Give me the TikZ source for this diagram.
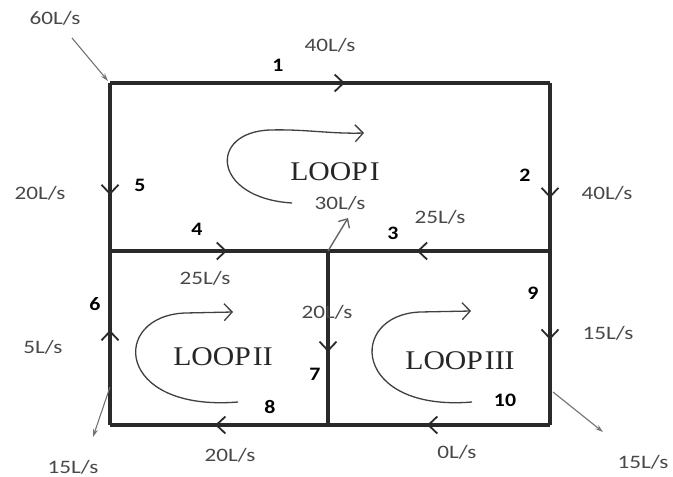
\documentclass[tikz,border=0pt]{standalone}
\usepackage{fontspec}
\newfontfamily\labfont[FakeStretch=1.22]{Carlito}
\newfontfamily\numfont[FakeStretch=1.15]{Carlito}
\newfontfamily\loopfont[FakeStretch=1.1]{Liberation Serif}
\usetikzlibrary{arrows.meta,decorations.markings}
\definecolor{pipecol}{HTML}{2A2A2A}
\definecolor{labcol}{HTML}{484848}
\tikzset{
 pipe/.style={draw=pipecol,line width=3.4pt},
 flowat/.style={postaction={decorate},decoration={markings,mark=at position #1 with {\arrow{Straight Barb[length=9pt,width=17pt,line width=1.8pt]}}}},
 flowlab/.style={text=labcol,font=\labfont\fontsize{19}{19}\selectfont,inner sep=0pt},
 pipenum/.style={text=black,font=\numfont\bfseries\fontsize{19}{19}\selectfont,inner sep=0pt},
 looplab/.style={font=\loopfont\fontsize{27}{27}\selectfont,inner sep=0pt,text=black!85},
 loopcurve/.style={draw=black!75,line width=1.3pt,-{Straight Barb[length=8pt,width=17pt,line width=1.3pt]}},
 ext/.style={draw=black!55,line width=1.1pt,-{Stealth[length=8pt,width=5pt]}},
}
\begin{document}
\begin{tikzpicture}[x=1pt,y=-1pt]
\useasboundingbox (0,0) rectangle (673,477);
% junctions
\coordinate (A) at (110,83);
\coordinate (B) at (550,83);
\coordinate (C) at (550,251);
\coordinate (D) at (110,251);
\coordinate (M) at (328,251);
\coordinate (E) at (110,425);
\coordinate (N) at (328,425);
\coordinate (F) at (550,425);
% pipes
\draw[pipe,flowat=0.534] (A) -- (B);
\draw[pipe,flowat=0.685] (B) -- (C);
\draw[pipe,flowat=0.667] (A) -- (D);
\draw[pipe,flowat=0.6] (C) -- (M);
\draw[pipe,flowat=0.537] (D) -- (M);
\draw[pipe,flowat=0.546] (E) -- (D);
\draw[pipe,flowat=0.58] (M) -- (N);
\draw[pipe,flowat=0.51] (C) -- (F);
\draw[pipe,flowat=0.518] (N) -- (E);
\draw[pipe,flowat=0.554] (F) -- (N);
% external flows
\coordinate (in60) at (72,38);
\coordinate (Ain) at (108,81);
\draw[ext] (in60) -- (Ain);
\coordinate (o1) at (110,387);
\coordinate (e1) at (93,437);
\draw[ext] (o1) -- (e1);
\coordinate (o2) at (553,392);
\coordinate (e2) at (603,432);
\draw[ext] (o2) -- (e2);
\coordinate (t30) at (348,218);
\draw[draw=black!60,line width=1.4pt,-{Straight Barb[length=7pt,width=13pt,line width=1.4pt]}] (M) -- (t30);
% loop curves
\coordinate (l1s) at (292,203);
\coordinate (l1t) at (270,130);
\coordinate (l1e) at (364,133);
\draw[loopcurve] (l1s) .. controls (212,198) and (208,132) .. (l1t) .. controls (305,129) and (330,134) .. (l1e);
\coordinate (l2s) at (238,402);
\coordinate (l2t) at (185,313);
\coordinate (l2e) at (233,312);
\draw[loopcurve] (l2s) .. controls (115,412) and (110,316) .. (l2t) -- (l2e);
\coordinate (l3s) at (472,402);
\coordinate (l3t) at (420,312);
\coordinate (l3e) at (471,311);
\draw[loopcurve] (l3s) .. controls (352,412) and (347,315) .. (l3t) -- (l3e);
% loop labels
\node[looplab] (L1) at (335,172) {LOOP\hspace{2pt}I};
\node[looplab] (L2) at (223,357) {LOOP\hspace{2pt}II};
\node[looplab] (L3) at (460,361) {LOOP\hspace{2pt}III};
% pipe numbers
\node[pipenum] (n1) at (278,65) {1};
\node[pipenum] (n2) at (525,175) {2};
\node[pipenum] (n3) at (393,233) {3};
\node[pipenum] (n4) at (197,229) {4};
\node[pipenum] (n5) at (140,185) {5};
\node[pipenum] (n6) at (95,304) {6};
\node[pipenum] (n7) at (315,374) {7};
\node[pipenum] (n8) at (270,407) {8};
\node[pipenum] (n9) at (533,293) {9};
\node[pipenum] (n10) at (505,400) {10};
% flow labels
\node[flowlab] (f60) at (55,18) {60L/s};
\node[flowlab] (f1) at (330,45) {40L/s};
\node[flowlab] (f2) at (607,193) {40L/s};
\node[flowlab] (f5) at (40,193) {20L/s};
\node[flowlab] (f30) at (340,203) {30L/s};
\node[flowlab] (f3) at (440,217) {25L/s};
\node[flowlab] (f4) at (205,278) {25L/s};
\node[flowlab] (f6) at (43,347) {5L/s};
\node[flowlab] (f7) at (327,312) {20L/s};
\node[flowlab] (f9) at (608,333) {15L/s};
\node[flowlab] (fo1) at (73,467) {15L/s};
\node[flowlab] (f8) at (230,455) {20L/s};
\node[flowlab] (f10) at (457,452) {0L/s};
\node[flowlab] (fo2) at (643,462) {15L/s};
\end{tikzpicture}
\end{document}
